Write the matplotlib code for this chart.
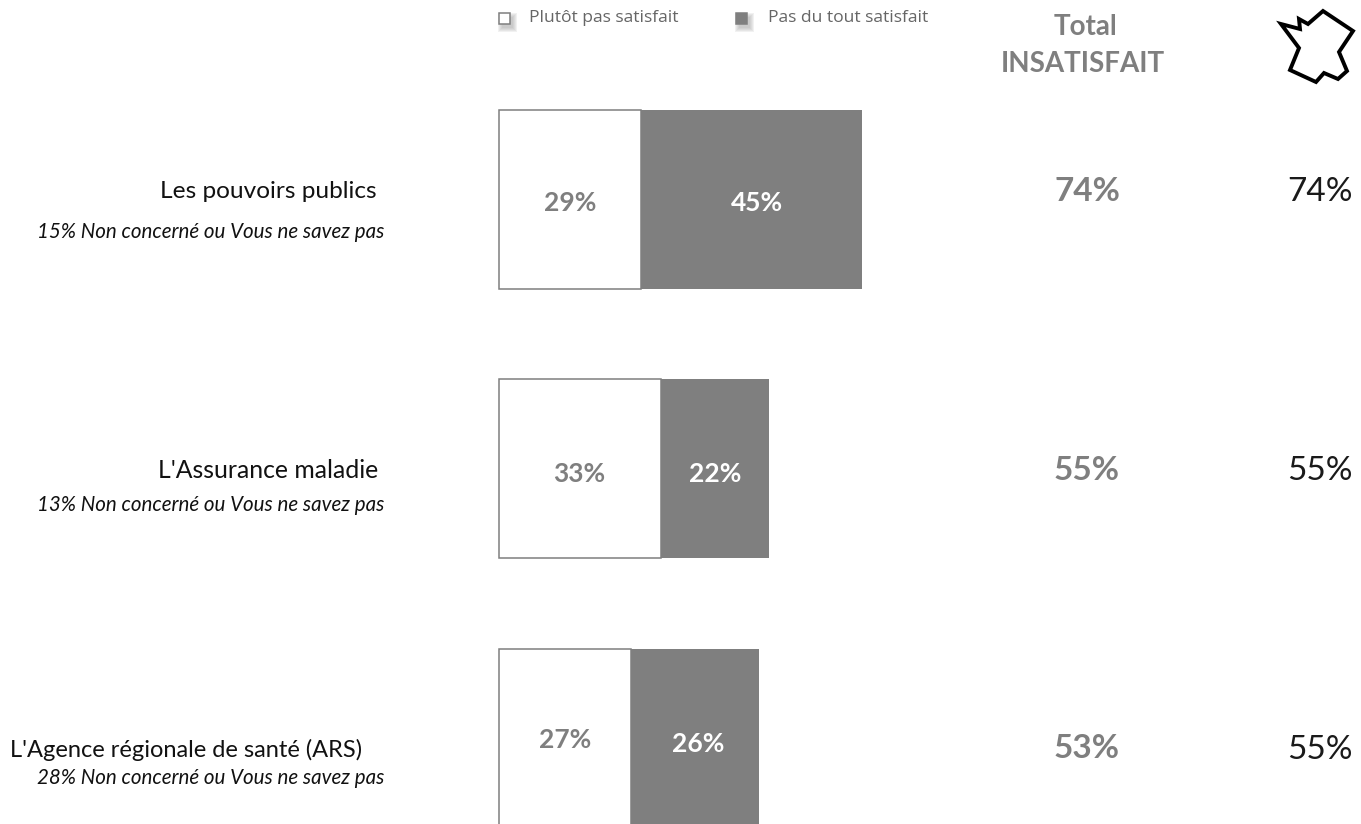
import matplotlib
matplotlib.use('Agg')
import numpy as np
import matplotlib.pyplot as plt
from matplotlib.patches import Rectangle, Polygon

W, H = 1361, 824
GREY = '#7f7f7f'

categories = ['Les pouvoirs publics', "L'Assurance maladie", "L'Agence régionale de santé (ARS)"]
notes = ['15% Non concerné ou Vous ne savez pas', '13% Non concerné ou Vous ne savez pas',
         '28% Non concerné ou Vous ne savez pas']
plutot = [29, 33, 27]
pas_du_tout = [45, 22, 26]
total = [74, 55, 53]
france = [74, 55, 55]
france_outline = [(1281, 24), (1300, 29), (1299, 19), (1308, 24), (1323, 11), (1353, 31), (1339, 52),
                  (1347, 71), (1338, 79), (1324, 73), (1316, 82), (1290, 70), (1299, 48)]

plt.rcParams['font.family'] = ['Lato', 'DejaVu Sans']
fig = plt.figure(figsize=(W / 100, H / 100), dpi=100)

# overlay in pixel coordinates for the text and the legend
over = fig.add_axes([0, 0, 1, 1])
over.set_xlim(0, W)
over.set_ylim(H, 0)
over.axis('off')

# bars: 0 at x=499, about 4.9 px per point, rows 269.5 px apart
px_unit = 4.9
ax = fig.add_axes([499 / W, 1 - 828 / H, 74 * px_unit / W, (828 - 110) / H])
ax.set_xlim(0, 74)
y = np.arange(3)
bar_h = 179 / 269.5
ax.set_ylim(2 + bar_h / 2, -bar_h / 2)
ax.axis('off')
ax.barh(y, plutot, bar_h, color='white', edgecolor=GREY, linewidth=1.1, clip_on=False)
ax.barh(y, pas_du_tout, bar_h, left=plutot, color=GREY, linewidth=0, clip_on=False)

# label nudges in pixels (y up), the source slides did not centre them
white_nudge = [(0, -4), (-1, -5), (0, -1)]
dark_nudge = [(6, -4), (1, -5), (3, -5)]
for i in range(3):
    ax.annotate('%d%%' % plutot[i], (plutot[i] / 2, i), xytext=white_nudge[i], textcoords='offset pixels',
                ha='center', va='center', fontsize=19, fontweight='bold', color=GREY)
    ax.annotate('%d%%' % pas_du_tout[i], (plutot[i] + pas_du_tout[i] / 2, i), xytext=dark_nudge[i],
                textcoords='offset pixels', ha='center', va='center', fontsize=19, fontweight='bold',
                color='white')
    over.text(1087, [191, 470, 749][i], '%d%%' % total[i], ha='center', va='center',
              fontsize=24, fontweight='bold', color=GREY)
    over.text(1320, [192, 471, 750][i], '%d%%' % france[i], ha='center', va='center',
              fontsize=24, color='#1a1a1a')

over.text(377, 191, categories[0], ha='right', va='center', fontsize=17.6, color='#111111')
over.text(378, 470, categories[1], ha='right', va='center', fontsize=17.8, color='#111111')
over.text(362, 750, categories[2], ha='right', va='center', fontsize=17, color='#111111')
for yy, note in zip([232, 505, 778], notes):
    over.text(384, yy, note, ha='right', va='center', fontsize=14.8, style='italic', color='#111111')

# header
over.text(1086, 27, 'Total', ha='center', va='center', fontsize=20, fontweight='bold', color=GREY)
over.text(1083, 64, 'INSATISFAIT', ha='center', va='center', fontsize=20, fontweight='bold', color=GREY)
over.text(529, 18, 'Plutôt pas satisfait', ha='left', va='center', fontsize=12.6, color='#666666',
          family=['Open Sans', 'DejaVu Sans'])
over.text(768, 18, 'Pas du tout satisfait', ha='left', va='center', fontsize=12.6, color='#666666',
          family=['Open Sans', 'DejaVu Sans'])

# legend keys with their soft shadow
for x0, face in [(499, 'white'), (736, GREY)]:
    for grow in [4, 3, 2, 1, 0]:
        over.add_patch(Rectangle((x0 + 3 - grow, 17 - grow), 11 + 2 * grow, 11 + 2 * grow,
                                 color='#999999', alpha=0.13, lw=0))
    over.add_patch(Rectangle((x0, 12.5), 11.5, 11, facecolor=face, edgecolor=GREY, lw=1.1))

over.add_patch(Polygon(france_outline, closed=True, fill=False, edgecolor='black', lw=2.8))

fig.savefig('out.png', dpi=100)
